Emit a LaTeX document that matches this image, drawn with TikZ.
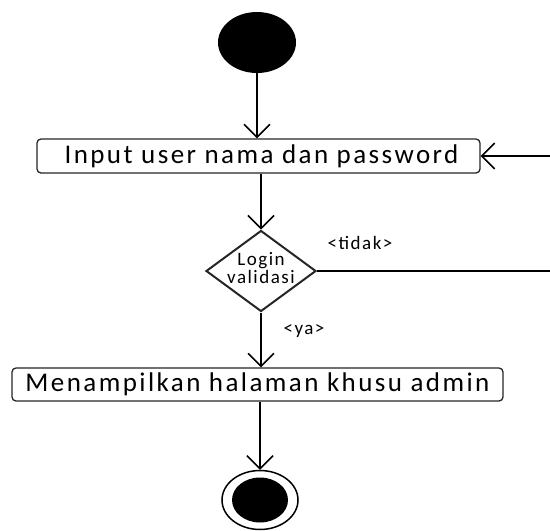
\documentclass[tikz,border=0pt]{standalone}
\usepackage{fontspec}
\setmainfont{Carlito}
\newfontfamily\boxfont[LetterSpace=9]{Carlito}
\newfontfamily\smallfont[LetterSpace=8]{Carlito}
\usetikzlibrary{arrows.meta,shapes.geometric}
\begin{document}
\begin{tikzpicture}[x=1pt,y=-1pt,
  actbox/.style={draw=black!85,line width=1.3pt,rounded corners=4pt,inner sep=0pt,
    font=\boxfont\fontsize{27}{30}\selectfont},
  flow/.style={line width=1.5pt,-{Straight Barb[length=13pt,width=26pt,line width=1.5pt]}},
  plainline/.style={line width=1.5pt},
  lbl/.style={font=\smallfont\fontsize{19}{20}\selectfont,inner sep=0pt}
]
\useasboundingbox (0,0) rectangle (550,531);
\fill[white] (0,0) rectangle (550,531);

\node[fill=black,ellipse,minimum width=78pt,minimum height=61pt,inner sep=0pt] (start) at (257,42.5) {};
\node[actbox,minimum width=443pt,minimum height=34pt] (input) at (258.5,156) {\hspace{6pt}Input user nama dan password};
\node[diamond,draw=black!85,line width=2pt,minimum width=110pt,minimum height=81pt,inner sep=0pt,
  label={[font=\smallfont\fontsize{19}{15}\selectfont,align=center,yshift=3pt]center:Login\\validasi}] (valid) at (261,271) {};
\node[actbox,minimum width=491pt,minimum height=33pt] (output) at (257.5,384.5) {Menampilkan halaman khusu admin};
\node[ellipse,draw,line width=1.5pt,minimum width=76pt,minimum height=59pt,inner sep=0pt] (final) at (260,500) {};
\fill (final.center) ellipse [x radius=28pt, y radius=22.5pt];

\node[lbl] (tidak) at (360,243) {<tidak>};
\node[lbl] (ya) at (304,331) {<ya>};

\coordinate (back) at (550,156);
\coordinate (exit) at (550,271);

\draw[flow] (start.south) -- (start.south |- input.north);
\draw[flow] (input.south -| valid.north) -- (valid.north);
\draw[flow] (valid.south) -- (valid.south |- output.north);
\draw[flow] (output.south -| final.north) -- (final.north);
\draw[flow] (back) -- (input.east);
\draw[plainline] (valid.east) -- (exit);
\end{tikzpicture}
\end{document}
